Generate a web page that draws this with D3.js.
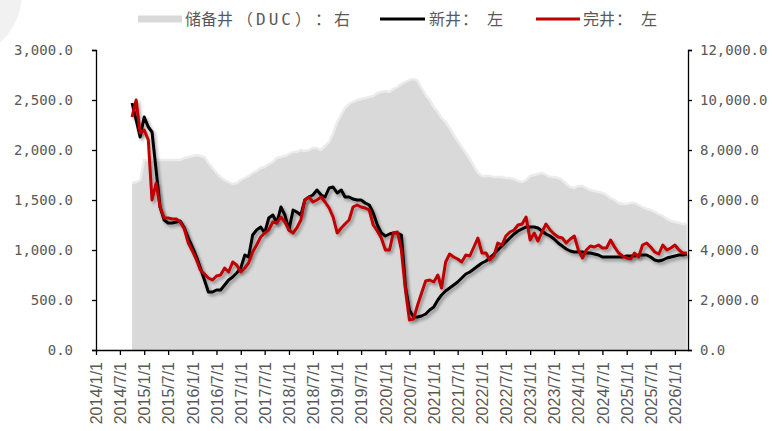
<!DOCTYPE html>
<html><head><meta charset="utf-8">
<script src="https://cdn.jsdelivr.net/npm/d3@7"></script>
<style>body{margin:0;background:#fff}svg{display:block}</style>
</head><body><svg id="c" width="775" height="431"></svg>
<script>
const startMonth = new Date(2014, 9, 1);
const seriesNames = ["储备井（DUC）：右", "新井：左", "完井：左"];
const leftTicks = [0, 500, 1000, 1500, 2000, 2500, 3000];
const rightTicks = [0, 2000, 4000, 6000, 8000, 10000, 12000];
const newWells = [
2470,2300,2130,2330,2230,2180,1800,1430,1300,1270,
1270,1280,1290,1220,1120,1030,930,820,700,580,
580,600,600,650,700,730,770,820,950,930,
1150,1200,1230,1170,1320,1350,1270,1430,1350,1200,
1400,1380,1350,1500,1530,1550,1600,1550,1530,1620,
1630,1570,1600,1530,1530,1510,1500,1500,1470,1450,
1370,1250,1170,1140,1160,1170,1170,1150,630,400,
330,330,340,360,400,430,500,550,590,620,
650,680,720,760,780,810,840,870,890,920,
960,1000,1040,1080,1120,1160,1190,1210,1230,1230,
1230,1220,1190,1160,1140,1110,1070,1040,1010,990,
980,980,980,970,970,960,950,930,930,930,
930,930,930,940,940,940,950,950,950,930,
900,890,900,920,930,940,950,950,960];
const completedWells = [
2330,2500,2170,2200,2100,1500,1670,1430,1320,1320,
1310,1310,1280,1210,1070,990,900,800,760,720,
700,740,750,820,780,880,850,780,820,870,
980,1050,1130,1170,1200,1280,1270,1330,1280,1200,
1170,1220,1300,1500,1530,1480,1500,1530,1480,1420,
1330,1170,1220,1260,1300,1430,1450,1430,1420,1400,
1250,1190,1120,1000,1000,1170,1180,1000,600,300,
310,450,570,690,700,680,750,620,880,960,
930,910,880,950,940,1030,1120,970,970,900,
940,1070,1050,1140,1180,1200,1250,1260,1330,1100,
1170,1090,1180,1260,1200,1160,1130,1120,1070,1110,
1140,1000,920,1000,1040,1030,1050,1020,1020,1100,
1030,970,940,920,910,970,930,1050,1070,1030,
980,960,1050,1000,1020,1050,1000,970,970];
const duc = [
6680,6720,6800,7600,7600,7600,7600,7600,7600,7600,
7600,7600,7600,7680,7720,7760,7800,7760,7720,7480,
7280,7080,6920,6800,6720,6640,6680,6800,6880,6960,
7080,7160,7280,7320,7440,7520,7680,7720,7760,7840,
7920,7920,8000,7960,8000,8080,8080,8000,8160,8320,
8680,9120,9400,9680,9840,9920,10000,10040,10080,10120,
10160,10280,10320,10360,10320,10440,10520,10640,10720,10800,
10840,10760,10480,10200,10000,9720,9520,9280,9120,8880,
8600,8360,8120,7880,7640,7360,7080,6960,6960,6960,
6920,6920,6920,6880,6880,6840,6760,6720,6800,6960,
7000,7040,7080,7000,6920,6920,6880,6800,6640,6520,
6480,6560,6560,6480,6400,6360,6320,6280,6200,6080,
6000,5880,5840,5840,5880,5880,5800,5720,5640,5600,
5520,5440,5360,5240,5160,5120,5080,5040,5040];

const dates = newWells.map((_, i) => d3.timeMonth.offset(startMonth, i));
const svg = d3.select("#c");
const defs = svg.append("defs");
const f = defs.append("filter").attr("id","sh").attr("x","-10%").attr("y","-10%").attr("width","130%").attr("height","130%");
f.append("feDropShadow").attr("dx",2).attr("dy",2.5).attr("stdDeviation",1.8).attr("flood-color","#000").attr("flood-opacity",0.33);

// decorative corner shape
svg.append("circle").attr("cx",-42).attr("cy",-6).attr("r",64).attr("fill","#f1f1f1");

const x = d3.scaleTime().domain([new Date(2014,0,1), new Date(2026,3,10)]).range([96, 688]);
const yL = d3.scaleLinear().domain([0,3000]).range([350,50]);
const yR = d3.scaleLinear().domain([0,12000]).range([350,50]);

const area = d3.area().x((d,i)=>x(dates[i])).y0(yR(0)).y1(d=>yR(d));
svg.append("path").datum(duc).attr("d",area).attr("fill","#d9d9d9");
svg.append("path").datum(duc).attr("d",d3.line().x((d,i)=>x(dates[i])).y(d=>yR(d)))
  .attr("fill","none").attr("stroke","#ececec").attr("stroke-width",2.5);

const lineL = d3.line().x((d,i)=>x(dates[i])).y(d=>yL(d));
svg.append("path").datum(newWells).attr("d",lineL).attr("fill","none").attr("stroke","#000")
  .attr("stroke-width",3).attr("stroke-linejoin","round").attr("filter","url(#sh)");
svg.append("path").datum(completedWells).attr("d",lineL).attr("fill","none").attr("stroke","#c00000")
  .attr("stroke-width",3).attr("stroke-linejoin","round").attr("filter","url(#sh)");

const numFmt = d3.format(",.1f");
const monoFont = "'DejaVu Sans Mono', monospace";
const gL = svg.append("g").attr("transform","translate(96,0)")
  .call(d3.axisLeft(yL).tickValues(leftTicks).tickSize(4).tickPadding(19).tickFormat(numFmt));
const gR = svg.append("g").attr("transform","translate(688,0)")
  .call(d3.axisRight(yR).tickValues(rightTicks).tickSize(4).tickPadding(8).tickFormat(numFmt));
[gL,gR].forEach(g=>{
  g.selectAll("path.domain").attr("stroke","#000").attr("stroke-width",1.3);
  g.selectAll(".tick line").attr("stroke","#000").attr("stroke-width",1.3);
  g.selectAll("text").attr("fill","#595959").style("font-family",monoFont).style("font-size","14px");
});

const xTicks = d3.timeMonth.every(6).range(new Date(2014,0,1), new Date(2026,0,2));
const gX = svg.append("g").attr("transform","translate(0,350)")
  .call(d3.axisBottom(x).tickValues(xTicks).tickSize(5).tickSizeOuter(0).tickFormat(d3.timeFormat("%Y/%-m/%-d")));
gX.selectAll("path.domain").attr("stroke","#000").attr("stroke-width",1.3);
gX.selectAll(".tick line").attr("stroke","#000").attr("stroke-width",1.3);
gX.selectAll("text").attr("fill","#595959").style("font-family","'Liberation Sans', Arial, sans-serif")
  .style("font-size","16px").attr("text-anchor","end").attr("dy","0.35em")
  .attr("transform","translate(0,12) rotate(-90)").attr("x",0).attr("y",0);

// legend: each label split into glyph runs placed explicitly (full-width punctuation kept wide)
const lg = svg.append("g").style("font-family","'Noto Sans CJK SC', sans-serif").style("font-size","16px");
const legendItems = [
  {x1:138, x2:182, color:"#d9d9d9", w:7,
   parts:[{t:"储备井",x:185},{t:"（",x:237},{t:"DUC",x:256,mono:true},{t:"）",x:295},{t:"：",x:315},{t:"右",x:334}]},
  {x1:380, x2:425, color:"#000", w:3,
   parts:[{t:"新井",x:429},{t:"：",x:462},{t:"左",x:487}]},
  {x1:536, x2:580, color:"#c00000", w:3,
   parts:[{t:"完井",x:583},{t:"：",x:616},{t:"左",x:641}]}
];
legendItems.forEach(it=>{
  lg.append("line").attr("x1",it.x1).attr("x2",it.x2).attr("y1",19).attr("y2",19)
    .attr("stroke",it.color).attr("stroke-width",it.w);
  const t = lg.append("text").attr("y",19).attr("dy","0.35em").attr("fill","#595959");
  it.parts.forEach(p=>{
    const s = t.append("tspan").attr("x",p.x).text(p.t);
    if (p.mono) s.style("font-family",monoFont).attr("letter-spacing","3px");
  });
});
</script></body></html>
